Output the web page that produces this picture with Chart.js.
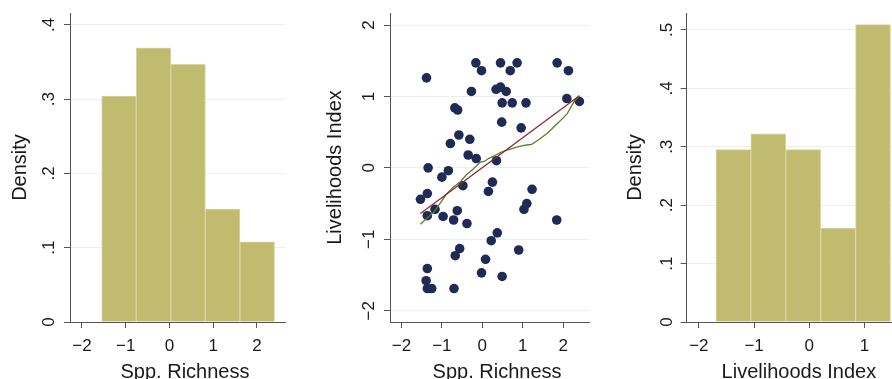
<!DOCTYPE html>
<html>
<head>
<meta charset="utf-8">
<script src="https://cdn.jsdelivr.net/npm/chart.js@4"></script>
<style>
  html, body { margin: 0; padding: 0; background: #fff; overflow: hidden; }
  body { width: 892px; height: 379px; position: relative; }
  canvas { position: absolute; top: 0; }
</style>
</head>
<body>
<canvas id="richHist" width="297" height="379" style="left:0"></canvas>
<canvas id="scatter" width="297" height="379" style="left:297px"></canvas>
<canvas id="liveHist" width="310" height="379" style="left:594px"></canvas>
<script>
// histogram bins (edges) and densities
const richEdges = [-1.55, -0.76, 0.03, 0.82, 1.61, 2.40];
const richDensity = [0.304, 0.369, 0.347, 0.152, 0.108];
const liveEdges = [-1.69, -1.058, -0.426, 0.206, 0.838, 1.47];
const liveDensity = [0.295, 0.322, 0.295, 0.161, 0.509];

// scatter: species richness vs livelihoods index
const sppRichness = [-1.38, -0.16, -0.02, 0.45, 0.86, 0.69, 1.85, 2.13, -0.27, 0.34, 0.45, 0.59, 0.49, 0.74, 1.08, 2.09, 2.40,
  -0.68, -0.61, 0.48, 0.96, -0.58, -0.79, -0.31, -0.35, -0.15, 0.35, -1.34, -0.84, -1.00, -0.48, 0.25, 0.15, 1.23,
  -1.53, -1.36, -1.17, -1.36, -0.97, -0.62, -0.71, -0.38, 1.10, 1.03, 1.84, 0.37, 0.22, -0.56, -0.67, 0.90, 0.08,
  -1.36, -1.39, -0.02, 0.49, -1.36, -1.25, -0.70];
const livelihoods = [1.26, 1.47, 1.36, 1.47, 1.47, 1.36, 1.47, 1.36, 1.07, 1.10, 1.13, 1.07, 0.91, 0.91, 0.91, 0.97, 0.93,
  0.84, 0.81, 0.64, 0.56, 0.46, 0.34, 0.40, 0.18, 0.13, 0.10, 0.00, -0.04, -0.13, -0.25, -0.20, -0.33, -0.30,
  -0.44, -0.36, -0.58, -0.67, -0.68, -0.60, -0.73, -0.78, -0.50, -0.58, -0.73, -0.91, -1.02, -1.13, -1.23, -1.15, -1.28,
  -1.41, -1.58, -1.47, -1.52, -1.69, -1.69, -1.69];

// linear fit and lowess
const fitX = [-1.53, 2.40];
const fitY = [-0.64, 1.01];
const lowessX = [-1.53, -1.36, -1.20, -1.05, -0.89, -0.72, -0.55, -0.40, -0.23, -0.05, 0.05, 0.15, 0.30, 0.47, 0.67,
  0.85, 1.00, 1.10, 1.22, 1.41, 1.60, 1.80, 2.00, 2.10, 2.20, 2.30, 2.40];
const lowessY = [-0.79, -0.70, -0.62, -0.50, -0.37, -0.27, -0.20, -0.10, -0.02, 0.08, 0.09, 0.13, 0.17, 0.22, 0.26,
  0.29, 0.31, 0.32, 0.33, 0.40, 0.48, 0.59, 0.70, 0.76, 0.86, 0.95, 1.01];

// tick values
const richXTicks = [-2, -1, 0, 1, 2];
const liveXTicks = [-2, -1, 0, 1];
const scatterYTicks = [-2, -1, 0, 1, 2];
const richDensityTicks = [0, 0.1, 0.2, 0.3, 0.4];
const liveDensityTicks = [0, 0.1, 0.2, 0.3, 0.4, 0.5];

const FONT = '"Liberation Sans", Arial, sans-serif';
const TEXT = '#1a1a1a';
const AXIS = '#555555';
const GRID = '#e8f0f0';
const BAR_FILL = '#c0bb6f';
const BAR_EDGE = '#d9d59e';

Chart.defaults.font.family = FONT;
Chart.defaults.color = TEXT;

const signed = v => (v < 0 ? '\u2212' + Math.abs(v) : String(v));
const dens = v => (v === 0 ? '0' : v.toFixed(1).replace(/^0/, ''));

// rotated y tick labels + x title, stata style
const stataText = {
  id: 'stataText',
  afterDraw(chart, args, o) {
    const ctx = chart.ctx;
    const ys = chart.scales.y;
    const area = chart.chartArea;
    const fmt = o.kind === 'density' ? dens : signed;
    ctx.save();
    ctx.fillStyle = TEXT;
    ctx.textAlign = 'center';
    ctx.textBaseline = 'alphabetic';
    ctx.font = o.tickSize + 'px ' + FONT;
    ys.ticks.forEach(t => {
      ctx.save();
      ctx.translate(ys.right - o.gap, ys.getPixelForValue(t.value));
      ctx.rotate(-Math.PI / 2);
      ctx.fillText(fmt(t.value), 0, 0);
      ctx.restore();
    });
    ctx.font = '20px ' + FONT;
    ctx.fillText(o.xTitle, (area.left + area.right) / 2 + o.dx, 377.5);
    ctx.restore();
  }
};

function xScale(min, max, ticks) {
  return {
    type: 'linear', min: min, max: max, offset: false,
    afterBuildTicks: s => { s.ticks = ticks.map(v => ({ value: v })); },
    afterFit: s => { s.height = 57; },
    grid: { offset: false, drawOnChartArea: false, tickLength: 6, tickColor: AXIS },
    border: { color: AXIS, width: 1, z: 1 },
    ticks: { font: { size: 17 }, color: TEXT, padding: 8, maxRotation: 0, autoSkip: false, callback: v => signed(v) }
  };
}

function yScale(min, max, ticks, width, title, titlePad) {
  return {
    type: 'linear', min: min, max: max,
    afterBuildTicks: s => { s.ticks = ticks.map(v => ({ value: v })); },
    afterFit: s => { s.width = width; },
    grid: { color: GRID, tickLength: 6, tickColor: AXIS },
    border: { color: AXIS, width: 1, z: 1 },
    ticks: { display: false },
    title: { display: true, text: title, color: TEXT, font: { size: 20, lineHeight: 1 }, padding: { top: titlePad, bottom: 0 } }
  };
}

function histogram(id, edges, density, xMin, xMax, xTicks, yMax, yTicks, yWidth, padRight, titlePad, xTitle, gap) {
  const bars = density.map((d, i) => ({ x: (edges[i] + edges[i + 1]) / 2, y: d }));
  return new Chart(document.getElementById(id), {
    type: 'bar',
    data: {
      datasets: [{
        data: bars,
        backgroundColor: BAR_FILL,
        borderColor: BAR_EDGE,
        borderWidth: 1,
        barPercentage: 1,
        categoryPercentage: 1
      }]
    },
    options: {
      responsive: false,
      animation: false,
      layout: { padding: { top: 13, right: padRight, left: 0, bottom: 0 } },
      plugins: {
        legend: { display: false },
        tooltip: { enabled: false },
        stataText: { kind: 'density', gap: gap, tickSize: 17, xTitle: xTitle, dx: 7.5 }
      },
      scales: {
        x: xScale(xMin, xMax, xTicks),
        y: yScale(0, yMax, yTicks, yWidth, 'Density', titlePad)
      }
    },
    plugins: [stataText]
  });
}

histogram('richHist', richEdges, richDensity, -2.274, 2.64, richXTicks, 0.416, richDensityTicks, 70, 12, 10, 'Spp. Richness', 16);

new Chart(document.getElementById('scatter'), {
  type: 'scatter',
  data: {
    datasets: [
      {
        data: fitX.map((x, i) => ({ x: x, y: fitY[i] })),
        showLine: true, pointRadius: 0, borderColor: '#8a2a32', borderWidth: 1.3, order: 0
      },
      {
        data: lowessX.map((x, i) => ({ x: x, y: lowessY[i] })),
        showLine: true, pointRadius: 0, borderColor: '#5b7f2a', borderWidth: 1.3, order: 0
      },
      {
        data: sppRichness.map((x, i) => ({ x: x, y: livelihoods[i] })),
        pointRadius: 4.8, pointBorderWidth: 0, backgroundColor: '#1f2b55', borderColor: '#1f2b55', order: 1
      }
    ]
  },
  options: {
    responsive: false,
    animation: false,
    layout: { padding: { top: 13, right: 4, left: 0, bottom: 0 } },
    plugins: {
      legend: { display: false },
      tooltip: { enabled: false },
      stataText: { kind: 'signed', gap: 16.5, tickSize: 17, xTitle: 'Spp. Richness', dx: 7.5 }
    },
    scales: {
      x: xScale(-2.283, 2.643, richXTicks),
      y: yScale(-2.158, 2.168, scatterYTicks, 93, 'Livelihoods Index', 28)
    }
  },
  plugins: [stataText]
});

histogram('liveHist', liveEdges, liveDensity, -2.22, 1.57, liveXTicks, 0.529, liveDensityTicks, 92.7, 8, 31, 'Livelihoods Index', 14.5);
</script>
</body>
</html>
